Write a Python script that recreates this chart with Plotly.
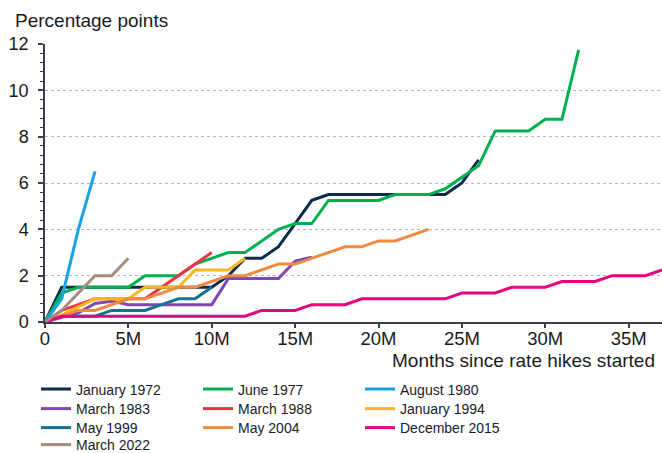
import plotly.graph_objects as go

# ---- data (percentage-point increase by months since first hike) ----
series_names = ["January 1972", "June 1977", "August 1980",
                "March 1983", "March 1988", "January 1994",
                "May 1999", "May 2004", "December 2015",
                "March 2022"]

jan1972 = [0, 1.5, 1.5, 1.5, 1.5, 1.5, 1.5, 1.5, 1.5, 1.5, 1.5, 2.0, 2.75, 2.75,
           3.25, 4.25, 5.25, 5.5, 5.5, 5.5, 5.5, 5.5, 5.5, 5.5, 5.5, 6.0, 7.0]
jun1977 = [0, 1.25, 1.5, 1.5, 1.5, 1.5, 2.0, 2.0, 2.0, 2.5, 2.75, 3.0, 3.0, 3.5,
           4.0, 4.25, 4.25, 5.25, 5.25, 5.25, 5.25, 5.5, 5.5, 5.5, 5.75, 6.25,
           6.75, 8.25, 8.25, 8.25, 8.75, 8.75, 11.75]
aug1980 = [0, 1.0, 4.0, 6.5]
mar1983 = [0, 0.2, 0.4, 0.8, 0.9, 0.75, 0.75, 0.75, 0.75, 0.75, 0.75, 1.875,
           1.875, 1.875, 1.875, 2.625, 2.8]
mar1988 = [0, 0.5, 0.75, 1.0, 1.0, 1.0, 1.0, 1.5, 2.0, 2.5, 3.0]
jan1994 = [0, 0.3, 0.65, 1.0, 1.0, 1.0, 1.5, 1.5, 1.5, 2.25, 2.25, 2.25, 2.75]
may1999 = [0, 0.25, 0.25, 0.25, 0.5, 0.5, 0.5, 0.75, 1.0, 1.0, 1.5]
may2004 = [0, 0.25, 0.5, 0.5, 0.75, 1.0, 1.0, 1.25, 1.5, 1.5, 1.75, 2.0, 2.0,
           2.25, 2.5, 2.5, 2.75, 3.0, 3.25, 3.25, 3.5, 3.5, 3.75, 4.0]
dec2015 = [0, 0.25, 0.25, 0.25, 0.25, 0.25, 0.25, 0.25, 0.25, 0.25, 0.25, 0.25,
           0.25, 0.5, 0.5, 0.5, 0.75, 0.75, 0.75, 1.0, 1.0, 1.0, 1.0, 1.0, 1.0,
           1.25, 1.25, 1.25, 1.5, 1.5, 1.5, 1.75, 1.75, 1.75, 2.0, 2.0, 2.0, 2.25]
mar2022 = [0, 0.5, 1.25, 2.0, 2.0, 2.75]

series_values = [jan1972, jun1977, aug1980, mar1983, mar1988,
                 jan1994, may1999, may2004, dec2015, mar2022]

x_tick_vals = [0, 5, 10, 15, 20, 25, 30, 35]
x_tick_text = ["0", "5M", "10M", "15M", "20M", "25M", "30M", "35M"]
y_tick_vals = [0, 2, 4, 6, 8, 10, 12]

# ---- styling ----
colors = ["#0f2b4b", "#00b04f", "#14a3e3", "#8048ad", "#ee3340",
          "#fdb71d", "#13728f", "#f08a3f", "#e5047f", "#a88a7c"]
legend_ids = ["legend", "legend", "legend",
              "legend2", "legend2", "legend2",
              "legend3", "legend3", "legend3",
              "legend4"]

fig = go.Figure()
for name, vals, col, lg in zip(series_names, series_values, colors, legend_ids):
    fig.add_trace(go.Scatter(
        x=list(range(len(vals))), y=vals, name=name, mode="lines",
        line=dict(color=col, width=3), legend=lg))

W, H = 662, 453
ml, mr, mt, mb = 45, 0, 44, 131
ph = H - mt - mb


def py(ypx):
    return (H - mb - ypx) / ph


legend_font = dict(family="Liberation Sans, Arial, sans-serif",
                   size=14, color="#1a1a2a")
leg_common = dict(orientation="h", x=-0.0146, xanchor="left", yanchor="middle",
                  entrywidth=117, entrywidthmode="pixels", font=legend_font,
                  bgcolor="rgba(0,0,0,0)", borderwidth=0, itemwidth=30)
row_y = [389.5, 409, 428, 445]

fig.update_layout(
    width=W, height=H,
    margin=dict(l=ml, r=mr, t=mt, b=mb, autoexpand=False),
    paper_bgcolor="white", plot_bgcolor="white",
    font=dict(family="Liberation Sans, Arial, sans-serif", size=18, color="#1a1a1a"),
    showlegend=True,
    legend=dict(y=py(row_y[0]), **leg_common),
    legend2=dict(y=py(row_y[1]), **leg_common),
    legend3=dict(y=py(row_y[2]), **leg_common),
    legend4=dict(y=py(row_y[3]), **leg_common),
    xaxis=dict(range=[0, 37], tickvals=x_tick_vals, ticktext=x_tick_text,
               showgrid=False, zeroline=False, showline=True,
               linecolor="#3d3d4a", linewidth=1.5, ticks="outside",
               ticklen=4, tickwidth=1.5, tickcolor="#3d3d4a",
               ticklabelstandoff=-5, tickfont=dict(size=18.5)),
    yaxis=dict(range=[0, 12], tickvals=y_tick_vals,
               showgrid=True, gridcolor="#b5b5b5", griddash="dot", gridwidth=1,
               zeroline=False, showline=True, linecolor="#3d3d4a", linewidth=1.5,
               ticks="outside", ticklen=5, tickwidth=1.5, tickcolor="#3d3d4a",
               ticklabelstandoff=6, tickfont=dict(size=18),
               minor=dict(dtick=0.4, tick0=0, ticks="outside", ticklen=3,
                          tickwidth=1, tickcolor="#3d3d4a", showgrid=False)),
    annotations=[
        dict(text="Percentage points", xref="paper", yref="paper",
             x=(13 - ml) / (W - ml - mr), y=py(20), xanchor="left", yanchor="middle",
             showarrow=False, font=dict(size=19)),
        dict(text="Months since rate hikes started", xref="paper", yref="paper",
             x=(657 - ml) / (W - ml - mr), y=py(360), xanchor="right", yanchor="middle",
             showarrow=False, font=dict(size=19)),
    ],
)

fig.write_html("out.html",
               config={"displayModeBar": False},
               post_script="document.body.style.margin='0px';document.body.style.overflow='hidden';")
